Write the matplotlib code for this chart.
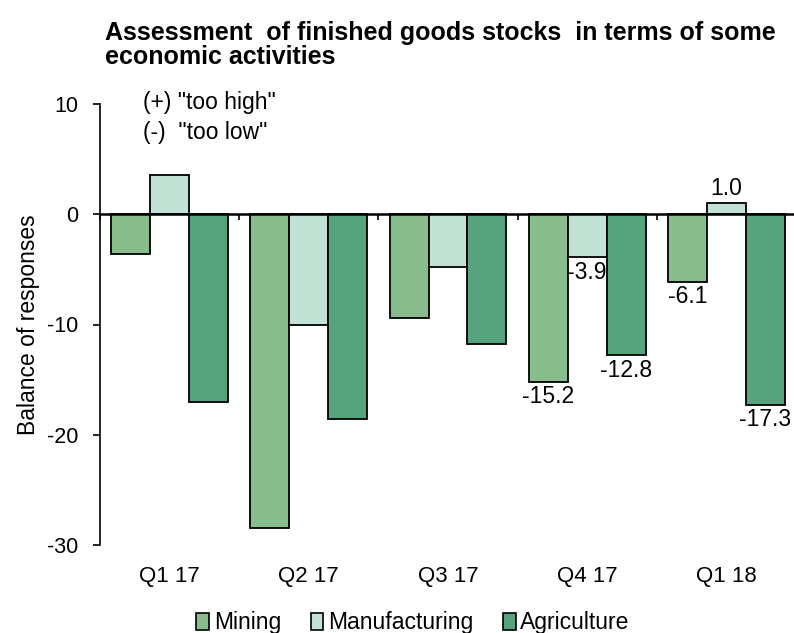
import numpy as np
import matplotlib
matplotlib.use("Agg")
import matplotlib.pyplot as plt
from matplotlib.patches import Patch

plt.rcParams["font.family"] = ["Liberation Sans", "DejaVu Sans"]

quarters = ["Q1 17", "Q2 17", "Q3 17", "Q4 17", "Q1 18"]
mining = [-3.6, -28.5, -9.4, -15.2, -6.1]
manufacturing = [3.6, -10.0, -4.8, -3.9, 1.0]
agriculture = [-17.0, -18.6, -11.8, -12.8, -17.3]
series_names = ["Mining", "Manufacturing", "Agriculture"]
colors = ["#8abd8e", "#c2e2d5", "#56a37e"]
labelled = [3, 4]  # only the last two quarters carry value labels

fig = plt.figure(figsize=(7.94, 6.33), dpi=100)
ax = fig.add_axes([100 / 794, 88 / 633, 696 / 794, 441 / 633])

x = np.arange(len(quarters))
width = 0.28
offsets = [-width, 0, width]
for vals, off, col in zip([mining, manufacturing, agriculture], offsets, colors):
    ax.bar(x + off, vals, width, color=col, edgecolor="black", linewidth=1.3, zorder=2)
    for i in labelled:
        v = vals[i]
        va = "bottom" if v > 0 else "top"
        dy = 0.3 if v > 0 else -0.3
        ax.text(x[i] + off, v + dy, f"{v:.1f}", ha="center", va=va, fontsize=16.5)

ax.set_xlim(-0.5, len(quarters) - 0.5)
ax.set_ylim(-30, 10)
ax.set_yticks([10, 0, -10, -20, -30])
ax.set_yticklabels(["10", "0", "-10", "-20", "-30"], fontsize=15.5)
ax.tick_params(axis="y", direction="out", length=5, width=1.2, pad=10.5)

ax.spines["top"].set_visible(False)
ax.spines["right"].set_visible(False)
ax.spines["left"].set_linewidth(1.2)
ax.spines["bottom"].set_position(("data", 0))
ax.spines["bottom"].set_linewidth(1.8)
ax.spines["bottom"].set_zorder(3)
ax.set_xticks(np.arange(len(quarters) + 1) - 0.5)
ax.set_xticklabels([])
ax.tick_params(axis="x", direction="out", length=4, width=1.2)

for i, q in enumerate(quarters):
    ax.text(x[i], -32.9, q, ha="center", va="center", fontsize=16)

ax.set_ylabel("Balance of responses", fontsize=16.5)
ax.yaxis.set_label_coords(-60 / 696, 0.5)

ax.text(-0.19, 10.1, '(+) "too high"', ha="left", va="center", fontsize=16.5)
ax.text(-0.19, 7.4, '(-)  "too low"', ha="left", va="center", fontsize=16.5)

fig.text(105 / 794, 1 - 21 / 633,
         "Assessment  of finished goods stocks  in terms of some\neconomic activities",
         ha="left", va="top", fontsize=18, fontweight="bold", linespacing=1.02)

handles = [Patch(facecolor=c, edgecolor="black", linewidth=1.2) for c in colors]
fig.legend(handles, series_names, loc="center", bbox_to_anchor=(413 / 794, 1 - 623 / 633),
           ncol=3, frameon=False, fontsize=16.5, handlelength=0.55, handleheight=0.75,
           handletextpad=0.2, columnspacing=1.3)

fig.savefig("out.png", dpi=100)
